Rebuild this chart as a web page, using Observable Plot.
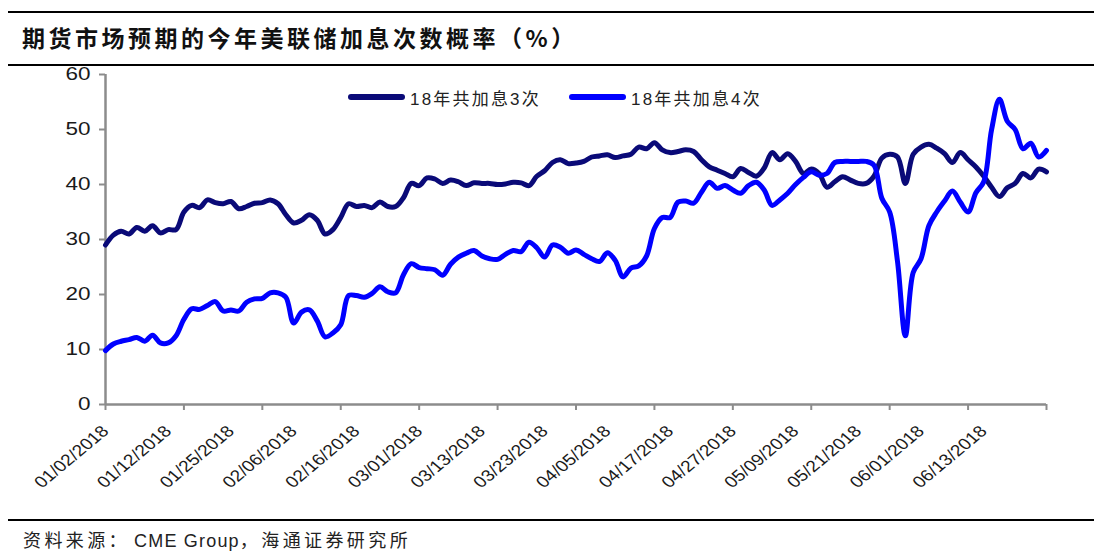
<!DOCTYPE html>
<html><head><meta charset="utf-8">
<script src="https://cdn.jsdelivr.net/npm/d3@7"></script>
<script src="https://cdn.jsdelivr.net/npm/@observablehq/plot@0.6"></script>
<style>
body{margin:0;background:#fff;}
#wrap{position:relative;width:1094px;height:557px;overflow:hidden;background:#fff;font-family:"Liberation Sans",Arial,sans-serif;}
#chart{position:absolute;left:0;top:0;}
.hline{position:absolute;left:8px;right:0;background:#000;}
#title{position:absolute;left:22px;top:22px;font-family:"Noto Sans CJK SC",sans-serif;font-weight:bold;font-size:23px;letter-spacing:3.5px;color:#111;line-height:30px;white-space:nowrap;}
#source{position:absolute;left:23px;top:528px;color:#222;line-height:22px;white-space:nowrap;}
#source .cj{font-family:"Noto Sans CJK SC",sans-serif;font-size:18px;letter-spacing:3.4px;}
#source .la{font-family:"Liberation Sans",Arial,sans-serif;font-size:18px;letter-spacing:1.2px;margin-left:4px;}
.leg{position:absolute;top:87px;height:20px;display:flex;align-items:center;font-size:17px;color:#222;white-space:nowrap;font-family:"Liberation Sans","Noto Sans CJK SC",sans-serif;letter-spacing:2.2px;}
.sw{display:inline-block;width:57px;height:6px;border-radius:3px;margin-right:5px;}
</style></head><body>
<div id="wrap">
  <div id="chart"></div>
  <div class="hline" style="top:11px;height:2px"></div>
  <div id="title">期货市场预期的今年美联储加息次数概率（%）</div>
  <div class="hline" style="top:64px;height:2px"></div>
  <div class="leg" style="left:348px"><span class="sw" style="background:#0a0a78"></span>18年共加息3次</div>
  <div class="leg" style="left:569px"><span class="sw" style="background:#0000ff"></span>18年共加息4次</div>
  <div class="hline" style="top:519px;height:2px"></div>
  <div id="source"><span class="cj">资料来源：</span><span class="la">CME Group</span><span class="cj">，海通证券研究所</span></div>
</div>
<script>
const seriesNames = ["18年共加息3次", "18年共加息4次"];
const dateLabels = ["01/02/2018","01/12/2018","01/25/2018","02/06/2018","02/16/2018","03/01/2018","03/13/2018","03/23/2018","04/05/2018","04/17/2018","04/27/2018","05/09/2018","05/21/2018","06/01/2018","06/13/2018"];
const yTicks = [0,10,20,30,40,50,60];
const hike3 = [
29,30.8,31.5,31,32.2,31.5,32.5,31.2,31.8,31.8,
35,36.2,35.8,37.2,36.7,36.5,36.9,35.6,36,36.6,
36.7,37.2,36.5,34.5,33,33.5,34.5,33.5,31,31.8,
34,36.5,36,36.2,35.8,36.8,36,36,37.6,40.2,
39.8,41.2,41,40.2,40.8,40.5,39.8,40.3,40.2,40.2,
40,40.1,40.4,40.3,39.8,41.5,42.5,44,44.5,43.8,
43.9,44.2,45,45.2,45.4,44.9,45.2,45.5,46.8,46.5,
47.6,46.3,45.8,46,46.3,46,44.5,43.2,42.6,42,
41.4,42.9,42.2,41.5,43,45.8,44.5,45.6,44.2,42,
42.8,42,39.5,40.5,41.4,40.8,40.2,40.2,41.5,44.8,
45.5,45,40.2,45.5,46.8,47.3,46.6,45.6,44,45.8,
44.5,43.2,41.5,39.5,37.8,39.4,40.2,42,41.2,42.8,
42.3];
const hike4 = [
9.8,11,11.5,11.8,12.2,11.5,12.6,11.2,11.2,12.5,
15.5,17.4,17.3,18,18.7,17,17.2,17,18.6,19.2,
19.3,20.3,20.3,19.5,14.8,16.8,17.2,15.2,12.3,13,
14.5,19.8,19.8,19.5,20.2,21.4,20.5,20.3,23.6,25.6,
24.9,24.7,24.5,23.5,25.5,26.8,27.5,28,27,26.5,
26.4,27.3,28,27.8,29.5,28.5,26.8,29,28.6,27.5,
28.1,27.3,26.5,26,27.6,26.2,23.2,24.8,25.2,27,
32,34,34,36.8,37,36.6,38.6,40.4,39.3,39.8,
39,38.4,39.8,40.4,39,36.2,37.2,38.4,40,41.3,
42.3,41.7,42,44,44.2,44.2,44.2,44.2,43.5,37.5,
35,26,12.5,24,26.5,32.5,35,37,38.8,36.8,
35,38.5,40.5,50,55.5,51.5,50,46.5,47.5,45,
46.2];
const data = [];
hike3.forEach((v,i)=>data.push({i, v, s: seriesNames[0]}));
hike4.forEach((v,i)=>data.push({i, v, s: seriesNames[1]}));
const axisGray = "#8c8c8c";
const chart = Plot.plot({
  width:1094, height:557,
  marginLeft:105, marginRight:48, marginTop:74, marginBottom:153,
  x:{domain:[0,120], axis:null},
  y:{domain:[0,60], axis:null},
  color:{domain:seriesNames, range:["#0a0a78","#0000ff"]},
  style:{background:"transparent", fontFamily:"Liberation Sans, Arial, sans-serif", fontSize:"16px"},
  marks:[
    Plot.axisY({ticks:yTicks, tickSize:6, tickPadding:9, stroke:axisGray, strokeWidth:2, fill:"#1a1a1a", label:null}),
    Plot.axisX({ticks:d3.range(0,121,10), tickSize:6, stroke:axisGray, strokeWidth:2, tickFormat:()=>"", label:null}),
    Plot.axisX({ticks:d3.range(0,113,8), tickSize:0, tickPadding:24, tickRotate:-45, fill:"#1a1a1a", tickFormat:d=>dateLabels[d/8], label:null}),
    Plot.ruleX([0], {stroke:axisGray, strokeWidth:2.5}),
    Plot.ruleY([0], {stroke:axisGray, strokeWidth:2.5}),
    Plot.line(data, {x:"i", y:"v", z:"s", stroke:"s", curve:"catmull-rom", strokeWidth:5, strokeLinejoin:"round", strokeLinecap:"round"})
  ]
});
document.getElementById("chart").appendChild(chart);
// the reference's axis text is drawn horizontally wide; stretch it about its anchor
d3.select(chart).selectAll("text").each(function(){
  const t = this.textContent;
  const tr = this.getAttribute("transform") || "";
  if (yTicks.map(String).includes(t)) {
    this.style.fontSize = "18px";
    const bb = this.getBBox();
    const ax = bb.x + bb.width, cy = bb.y + bb.height / 2;
    this.setAttribute("transform", `${tr} translate(${ax},${cy}) scale(1.25,1) translate(${-ax},${-cy})`);
  } else if (t.includes("/")) {
    if (/rotate\(/.test(tr)) this.setAttribute("transform", tr.replace(/rotate\(([^)]*)\)/, "scale(1.2,1) rotate($1)"));
    this.style.fontSize = "16px";
  }
});
</script>
</body></html>
